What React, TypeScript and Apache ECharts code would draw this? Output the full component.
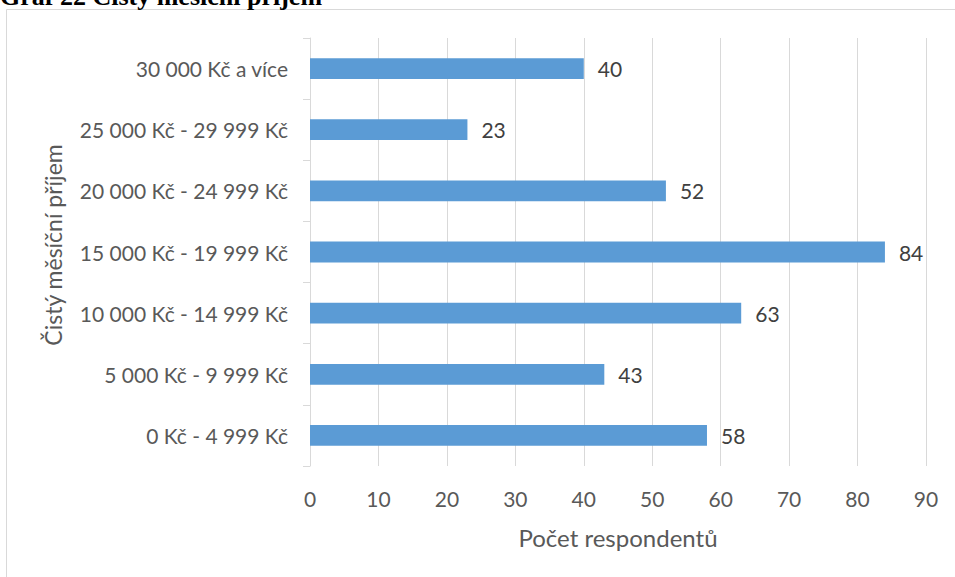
import React, { useEffect, useRef } from "react";
import * as echarts from "echarts";

// Income brackets, bottom to top
const categories = [
  "0 Kč - 4 999 Kč",
  "5 000 Kč - 9 999 Kč",
  "10 000 Kč - 14 999 Kč",
  "15 000 Kč - 19 999 Kč",
  "20 000 Kč - 24 999 Kč",
  "25 000 Kč - 29 999 Kč",
  "30 000 Kč a více",
];
const respondents = [58, 43, 63, 84, 52, 23, 40];

const titleText = "Graf 22 Čistý měsíční příjem";
const xAxisName = "Počet respondentů";
const yAxisName = "Čistý měsíční příjem";

const FONT = "Lato, 'Open Sans', sans-serif";

export default function App() {
  const ref = useRef<HTMLDivElement>(null);

  useEffect(() => {
    document.body.style.margin = "0";
    if (!ref.current) return;
    const chart = echarts.init(ref.current, undefined, { renderer: "svg" });
    chart.setOption({
      animation: false,
      backgroundColor: "#ffffff",
      graphic: [
        {
          type: "rect",
          shape: { x: 6.5, y: 9.5, width: 1000, height: 1000 },
          style: { fill: "none", stroke: "#d9d9d9", lineWidth: 1 },
          silent: true,
          z: -1,
        },
        {
          type: "text",
          x: 0,
          y: 9,
          style: {
            text: titleText,
            font: "bold 26px 'Liberation Serif', 'Times New Roman', serif",
            fill: "#000000",
            verticalAlign: "bottom",
          },
        },
        {
          // vertical axis title, rotated to read bottom-up
          type: "text",
          x: 53,
          y: 245,
          rotation: Math.PI / 2,
          style: {
            text: yAxisName,
            font: `23px ${FONT}`,
            fill: "#595959",
            align: "center",
            verticalAlign: "middle",
          },
        },
      ],
      grid: { left: 310, top: 38, width: 616, height: 428, containLabel: false },
      xAxis: {
        type: "value",
        min: 0,
        max: 90,
        interval: 10,
        axisLine: { show: false },
        axisTick: { show: false },
        splitLine: { lineStyle: { color: "#d9d9d9", width: 1 } },
        axisLabel: { fontFamily: FONT, fontSize: 21, color: "#595959", margin: 22 },
        name: xAxisName,
        nameLocation: "middle",
        nameGap: 59,
        nameTextStyle: { fontFamily: FONT, fontSize: 24, color: "#595959" },
      },
      yAxis: {
        type: "category",
        data: categories,
        axisLine: { lineStyle: { color: "#d9d9d9", width: 1 } },
        axisTick: { show: true, length: 7, lineStyle: { color: "#d9d9d9" } },
        axisLabel: { fontFamily: FONT, fontSize: 21, color: "#595959", margin: 22 },
      },
      series: [
        {
          type: "bar",
          data: respondents,
          barWidth: "34%",
          itemStyle: { color: "#5b9bd5" },
          label: {
            show: true,
            position: "right",
            distance: 14,
            fontFamily: FONT,
            fontSize: 21,
            color: "#404040",
          },
        },
      ],
    });
    return () => chart.dispose();
  }, []);

  return <div ref={ref} style={{ width: 955, height: 577 }} />;
}
